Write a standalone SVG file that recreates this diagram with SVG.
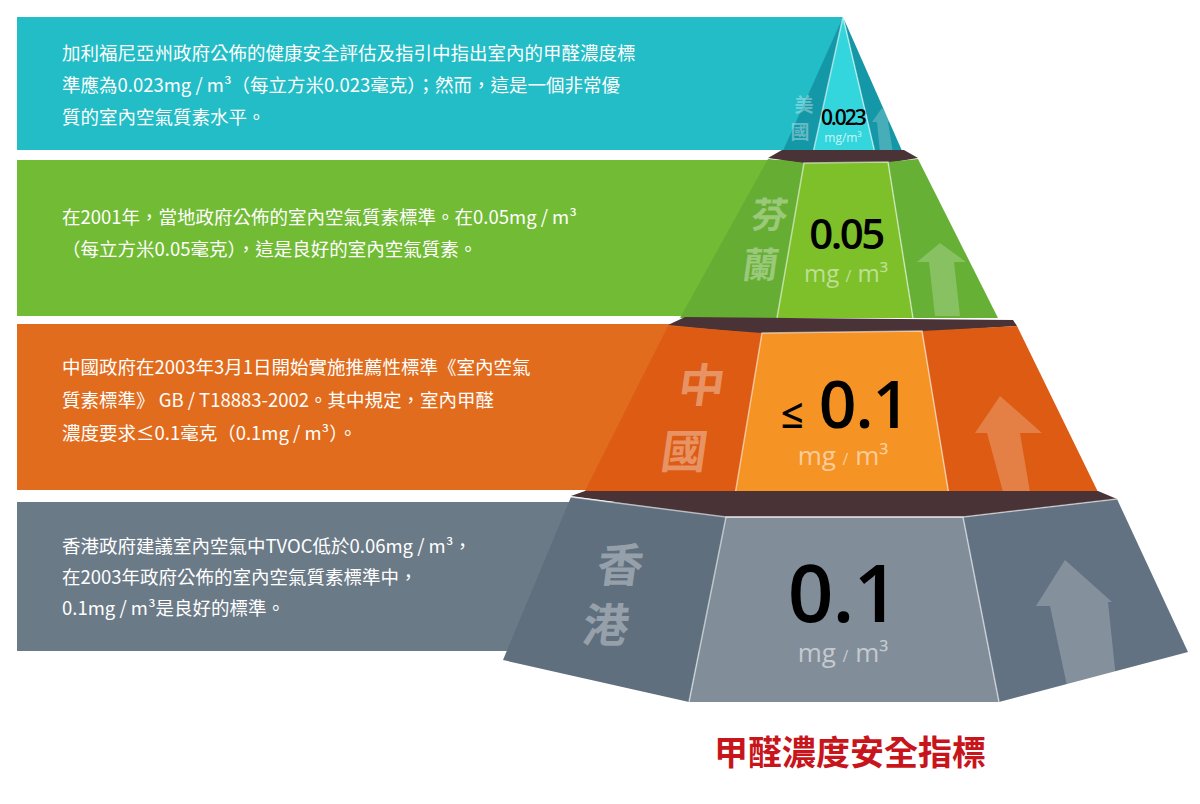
<svg xmlns="http://www.w3.org/2000/svg" width="1200" height="804" viewBox="0 0 1200 804">
<style>
.t{font-family:"Noto Sans CJK TC","Noto Sans",sans-serif;font-size:18.5px;fill:#fff}
.c{font-family:"Noto Sans CJK TC",sans-serif;font-weight:bold;fill:#fff;fill-opacity:.35;text-anchor:middle}
.v{font-family:"Open Sans","Noto Sans",sans-serif;font-weight:600;fill:#000;text-anchor:middle}
.u{font-family:"Open Sans","Noto Sans",sans-serif;text-anchor:middle}
.sep{fill:#4a3336}
.ar{fill:#fff;fill-opacity:.22}
.ln{fill:none;stroke:#fff;stroke-opacity:.55;stroke-width:1.5}
</style>
<rect width="1200" height="804" fill="#fff"/>
<g id="band-us"><rect x="17" y="17" width="826" height="133" fill="#22bdc6"/>
<text class="t" x="62" y="60">加利福尼亞州政府公佈的健康安全評估及指引中指出室內的甲醛濃度標</text>
<text class="t" x="62" y="92">準應為0.023mg / m³（每立方米0.023毫克）；然而，這是一個非常優</text>
<text class="t" x="62" y="124">質的室內空氣質素水平。</text></g>
<g id="band-fi"><rect x="17" y="160" width="826" height="156" fill="#72bb35"/>
<text class="t" x="62" y="224">在2001年，當地政府公佈的室內空氣質素標準。在0.05mg / m³</text>
<text class="t" x="62" y="256">（每立方米0.05毫克），這是良好的室內空氣質素。</text></g>
<g id="band-cn"><rect x="17" y="324" width="826" height="166" fill="#e26c1d"/>
<text class="t" x="62" y="374">中國政府在2003年3月1日開始實施推薦性標準《室內空氣</text>
<text class="t" x="62" y="407">質素標準》 GB / T18883-2002。其中規定，室內甲醛</text>
<text class="t" x="62" y="440">濃度要求≤0.1毫克（0.1mg / m³）。</text></g>
<g id="band-hk"><rect x="17" y="502" width="826" height="149" fill="#6b7a87"/>
<text class="t" x="62" y="553">香港政府建議室內空氣中TVOC低於0.06mg / m³，</text>
<text class="t" x="62" y="584">在2003年政府公佈的室內空氣質素標準中，</text>
<text class="t" x="62" y="615">0.1mg / m³是良好的標準。</text></g>

<g id="tier-us">
<polygon points="843,17 782,153 813,153" fill="#1497a6"/>
<polygon points="843,17 875,153 903,153" fill="#1497a6"/>
<polygon points="843,17 813,153 875,153" fill="#33d6dc"/>
<polyline class="ln" points="813,153 843,17 875,153"/>
<polygon class="ar" points="882,108 872,122 877,122 880,153 893,153 888,122 893,122"/>
<text class="c" x="804" y="112" font-size="19">美</text><text class="c" x="800" y="139" font-size="19">國</text>
<text class="v" x="843" y="125" font-size="21" letter-spacing="-2">0.023</text>
<text class="u" x="843" y="142" font-size="12" fill="#fff" fill-opacity=".75">mg/m³</text>
</g>
<polygon class="sep" points="768,158 782,150 904,150 918,158 888,163 804,163"/>
<g id="tier-fi">
<polygon points="768,159 804,163 777,318 680,318" fill="#66ad34"/>
<polygon points="804,163 888,162 913,318 777,318" fill="#7dc02a"/>
<polygon points="888,162 918,159 998,318 913,318" fill="#66b035"/>
<polyline class="ln" points="777,318 804,163 888,162 913,318"/>
<polygon class="ar" points="940,243 917,262 929,262 935,316 960,316 954,262 966,262"/>
<text class="c" x="770" y="228" font-size="36" transform="skewX(-8) translate(30,0)">芬</text>
<text class="c" x="762" y="278" font-size="36" transform="skewX(-8) translate(36,0)">蘭</text>
<text class="v" x="846" y="249" font-size="42" letter-spacing="-2.5">0.05</text>
<text class="u" x="846" y="282" font-size="24" fill="#fff" fill-opacity=".5">mg <tspan font-size="16">/</tspan> m³</text>
</g>
<polygon class="sep" points="668,325 685,317 1013,320 1017,326 922,332 762,334"/>
<g id="tier-cn">
<polygon points="668,326 762,333 734,501 585,491" fill="#dd5b12"/>
<polygon points="762,333 922,331 950,501 734,501" fill="#f59325"/>
<polygon points="922,331 1017,326 1098,492 950,501" fill="#dd5b12"/>
<polyline class="ln" points="734,501 762,333 922,331 950,501"/>
<polygon class="ar" points="1000,396 975,433 987,433 1003,492 1030,492 1020,433 1042,433"/>
<text class="c" x="700" y="402" font-size="46" transform="skewX(-8) translate(56,0)">中</text>
<text class="c" x="684" y="468" font-size="46" transform="skewX(-8) translate(64,0)">國</text>
<text class="v" x="845" y="428" font-size="66" letter-spacing="-1"><tspan font-size="40">≤</tspan> 0.1</text>
<text class="u" x="843" y="465" font-size="26" fill="#fff" fill-opacity=".55">mg <tspan font-size="16">/</tspan> m³</text>
</g>
<polygon class="sep" points="571,496 585,491 1098,491 1117,499 963,517 726,517"/>
<g id="tier-hk">
<polygon points="571,497 726,517 689,702 503,660" fill="#5f6f7e"/>
<polygon points="726,517 963,517 999,702 689,702" fill="#818d99"/>
<polygon points="963,517 1117,499 1188,652 999,702" fill="#627282"/>
<polyline class="ln" points="571,497 726,517 963,517 1117,499"/>
<polyline class="ln" points="689,702 726,517 963,517 999,702"/>
<polygon class="ar" points="1065,560 1036,606 1050,606 1070,700 1117,688 1108,602 1112,602"/>
<text class="c" x="620" y="582" font-size="46" transform="skewX(-8) translate(80,0)">香</text>
<text class="c" x="606" y="642" font-size="46" transform="skewX(-8) translate(88,0)">港</text>
<text class="v" x="843" y="622" font-size="80" letter-spacing="-1">0.1</text>
<text class="u" x="843" y="662" font-size="26" fill="#fff" fill-opacity=".55">mg <tspan font-size="16">/</tspan> m³</text>
</g>
<g id="connectors"></g>
<text x="850" y="765" font-family="Noto Sans CJK TC,sans-serif" font-weight="bold" font-size="34" fill="#c8151b" text-anchor="middle">甲醛濃度安全指標</text>
</svg>
